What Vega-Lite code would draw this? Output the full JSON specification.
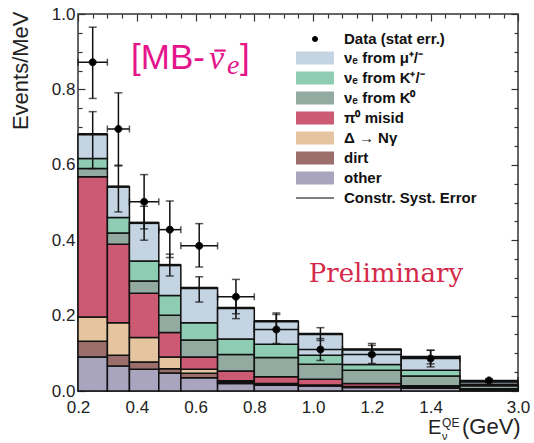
{
  "$schema": "https://vega.github.io/schema/vega-lite/v6.json",
  "width": 440,
  "height": 377,
  "autosize": {"type": "none"},
  "padding": {"left": 78, "top": 14, "right": 16, "bottom": 52},
  "background": "white",
  "config": {
    "view": {"stroke": "#333", "strokeWidth": 1.5},
    "axis": {"grid": false, "domain": false, "tickColor": "#333", "tickWidth": 1.2, "labelFont": "Liberation Sans", "labelFontSize": 17, "labelColor": "#222", "titleFont": "Liberation Sans", "titleFontSize": 22, "titleFontWeight": "normal", "titleColor": "#222", "labelFlush": false, "labelOverlap": false},
    "legend": {"labelFont": "Liberation Sans", "labelFontWeight": "bold", "labelFontSize": 15, "labelColor": "#111", "symbolSize": 361, "symbolStrokeColor": "#111", "symbolStrokeWidth": 1.5, "rowPadding": 0, "labelOffset": 18.5, "padding": 0, "symbolOpacity": 1, "labelLimit": 300}
  },
  "datasets": {
    "stack": [
      {"x0": 0.2, "x1": 0.3, "comp": "other", "ord": 1, "v": 0.090},
      {"x0": 0.2, "x1": 0.3, "comp": "dirt", "ord": 2, "v": 0.042},
      {"x0": 0.2, "x1": 0.3, "comp": "Δ → Nγ", "ord": 3, "v": 0.064},
      {"x0": 0.2, "x1": 0.3, "comp": "π⁰ misid", "ord": 4, "v": 0.372},
      {"x0": 0.2, "x1": 0.3, "comp": "νₑ from K⁰", "ord": 5, "v": 0.022},
      {"x0": 0.2, "x1": 0.3, "comp": "νₑ from K⁺/⁻", "ord": 6, "v": 0.027},
      {"x0": 0.2, "x1": 0.3, "comp": "νₑ from μ⁺/⁻", "ord": 7, "v": 0.064},
      {"x0": 0.3, "x1": 0.375, "comp": "other", "ord": 1, "v": 0.066},
      {"x0": 0.3, "x1": 0.375, "comp": "dirt", "ord": 2, "v": 0.029},
      {"x0": 0.3, "x1": 0.375, "comp": "Δ → Nγ", "ord": 3, "v": 0.086},
      {"x0": 0.3, "x1": 0.375, "comp": "π⁰ misid", "ord": 4, "v": 0.208},
      {"x0": 0.3, "x1": 0.375, "comp": "νₑ from K⁰", "ord": 5, "v": 0.030},
      {"x0": 0.3, "x1": 0.375, "comp": "νₑ from K⁺/⁻", "ord": 6, "v": 0.041},
      {"x0": 0.3, "x1": 0.375, "comp": "νₑ from μ⁺/⁻", "ord": 7, "v": 0.082},
      {"x0": 0.375, "x1": 0.475, "comp": "other", "ord": 1, "v": 0.058},
      {"x0": 0.375, "x1": 0.475, "comp": "dirt", "ord": 2, "v": 0.019},
      {"x0": 0.375, "x1": 0.475, "comp": "Δ → Nγ", "ord": 3, "v": 0.065},
      {"x0": 0.375, "x1": 0.475, "comp": "π⁰ misid", "ord": 4, "v": 0.117},
      {"x0": 0.375, "x1": 0.475, "comp": "νₑ from K⁰", "ord": 5, "v": 0.033},
      {"x0": 0.375, "x1": 0.475, "comp": "νₑ from K⁺/⁻", "ord": 6, "v": 0.053},
      {"x0": 0.375, "x1": 0.475, "comp": "νₑ from μ⁺/⁻", "ord": 7, "v": 0.101},
      {"x0": 0.475, "x1": 0.55, "comp": "other", "ord": 1, "v": 0.048},
      {"x0": 0.475, "x1": 0.55, "comp": "dirt", "ord": 2, "v": 0.011},
      {"x0": 0.475, "x1": 0.55, "comp": "Δ → Nγ", "ord": 3, "v": 0.031},
      {"x0": 0.475, "x1": 0.55, "comp": "π⁰ misid", "ord": 4, "v": 0.065},
      {"x0": 0.475, "x1": 0.55, "comp": "νₑ from K⁰", "ord": 5, "v": 0.046},
      {"x0": 0.475, "x1": 0.55, "comp": "νₑ from K⁺/⁻", "ord": 6, "v": 0.052},
      {"x0": 0.475, "x1": 0.55, "comp": "νₑ from μ⁺/⁻", "ord": 7, "v": 0.081},
      {"x0": 0.55, "x1": 0.675, "comp": "other", "ord": 1, "v": 0.035},
      {"x0": 0.55, "x1": 0.675, "comp": "dirt", "ord": 2, "v": 0.012},
      {"x0": 0.55, "x1": 0.675, "comp": "Δ → Nγ", "ord": 3, "v": 0.011},
      {"x0": 0.55, "x1": 0.675, "comp": "π⁰ misid", "ord": 4, "v": 0.032},
      {"x0": 0.55, "x1": 0.675, "comp": "νₑ from K⁰", "ord": 5, "v": 0.045},
      {"x0": 0.55, "x1": 0.675, "comp": "νₑ from K⁺/⁻", "ord": 6, "v": 0.046},
      {"x0": 0.55, "x1": 0.675, "comp": "νₑ from μ⁺/⁻", "ord": 7, "v": 0.092},
      {"x0": 0.675, "x1": 0.8, "comp": "other", "ord": 1, "v": 0.020},
      {"x0": 0.675, "x1": 0.8, "comp": "dirt", "ord": 2, "v": 0.004},
      {"x0": 0.675, "x1": 0.8, "comp": "Δ → Nγ", "ord": 3, "v": 0.003},
      {"x0": 0.675, "x1": 0.8, "comp": "π⁰ misid", "ord": 4, "v": 0.026},
      {"x0": 0.675, "x1": 0.8, "comp": "νₑ from K⁰", "ord": 5, "v": 0.044},
      {"x0": 0.675, "x1": 0.8, "comp": "νₑ from K⁺/⁻", "ord": 6, "v": 0.041},
      {"x0": 0.675, "x1": 0.8, "comp": "νₑ from μ⁺/⁻", "ord": 7, "v": 0.082},
      {"x0": 0.8, "x1": 0.95, "comp": "other", "ord": 1, "v": 0.015},
      {"x0": 0.8, "x1": 0.95, "comp": "dirt", "ord": 2, "v": 0.003},
      {"x0": 0.8, "x1": 0.95, "comp": "Δ → Nγ", "ord": 3, "v": 0.002},
      {"x0": 0.8, "x1": 0.95, "comp": "π⁰ misid", "ord": 4, "v": 0.018},
      {"x0": 0.8, "x1": 0.95, "comp": "νₑ from K⁰", "ord": 5, "v": 0.051},
      {"x0": 0.8, "x1": 0.95, "comp": "νₑ from K⁺/⁻", "ord": 6, "v": 0.035},
      {"x0": 0.8, "x1": 0.95, "comp": "νₑ from μ⁺/⁻", "ord": 7, "v": 0.061},
      {"x0": 0.95, "x1": 1.1, "comp": "other", "ord": 1, "v": 0.013},
      {"x0": 0.95, "x1": 1.1, "comp": "dirt", "ord": 2, "v": 0.002},
      {"x0": 0.95, "x1": 1.1, "comp": "Δ → Nγ", "ord": 3, "v": 0.001},
      {"x0": 0.95, "x1": 1.1, "comp": "π⁰ misid", "ord": 4, "v": 0.015},
      {"x0": 0.95, "x1": 1.1, "comp": "νₑ from K⁰", "ord": 5, "v": 0.040},
      {"x0": 0.95, "x1": 1.1, "comp": "νₑ from K⁺/⁻", "ord": 6, "v": 0.024},
      {"x0": 0.95, "x1": 1.1, "comp": "νₑ from μ⁺/⁻", "ord": 7, "v": 0.056},
      {"x0": 1.1, "x1": 1.3, "comp": "other", "ord": 1, "v": 0.009},
      {"x0": 1.1, "x1": 1.3, "comp": "dirt", "ord": 2, "v": 0.002},
      {"x0": 1.1, "x1": 1.3, "comp": "Δ → Nγ", "ord": 3, "v": 0.001},
      {"x0": 1.1, "x1": 1.3, "comp": "π⁰ misid", "ord": 4, "v": 0.008},
      {"x0": 1.1, "x1": 1.3, "comp": "νₑ from K⁰", "ord": 5, "v": 0.035},
      {"x0": 1.1, "x1": 1.3, "comp": "νₑ from K⁺/⁻", "ord": 6, "v": 0.015},
      {"x0": 1.1, "x1": 1.3, "comp": "νₑ from μ⁺/⁻", "ord": 7, "v": 0.040},
      {"x0": 1.3, "x1": 1.5, "comp": "other", "ord": 1, "v": 0.007},
      {"x0": 1.3, "x1": 1.5, "comp": "dirt", "ord": 2, "v": 0.002},
      {"x0": 1.3, "x1": 1.5, "comp": "Δ → Nγ", "ord": 3, "v": 0.001},
      {"x0": 1.3, "x1": 1.5, "comp": "π⁰ misid", "ord": 4, "v": 0.004},
      {"x0": 1.3, "x1": 1.5, "comp": "νₑ from K⁰", "ord": 5, "v": 0.026},
      {"x0": 1.3, "x1": 1.5, "comp": "νₑ from K⁺/⁻", "ord": 6, "v": 0.015},
      {"x0": 1.3, "x1": 1.5, "comp": "νₑ from μ⁺/⁻", "ord": 7, "v": 0.035},
      {"x0": 1.5, "x1": 3.0, "comp": "other", "ord": 1, "v": 0.003},
      {"x0": 1.5, "x1": 3.0, "comp": "dirt", "ord": 2, "v": 0.001},
      {"x0": 1.5, "x1": 3.0, "comp": "Δ → Nγ", "ord": 3, "v": 0.001},
      {"x0": 1.5, "x1": 3.0, "comp": "π⁰ misid", "ord": 4, "v": 0.001},
      {"x0": 1.5, "x1": 3.0, "comp": "νₑ from K⁰", "ord": 5, "v": 0.008},
      {"x0": 1.5, "x1": 3.0, "comp": "νₑ from K⁺/⁻", "ord": 6, "v": 0.004},
      {"x0": 1.5, "x1": 3.0, "comp": "νₑ from μ⁺/⁻", "ord": 7, "v": 0.007}
    ],
    "bins": [
      {"x0": 0.2, "x1": 0.3, "xc": 0.25, "total": 0.681, "slo": 0.59, "shi": 0.741, "d": 0.872, "dlo": 0.776, "dhi": 0.965, "series": "Data (stat err.)"},
      {"x0": 0.3, "x1": 0.375, "xc": 0.3375, "total": 0.542, "slo": 0.475, "shi": 0.599, "d": 0.695, "dlo": 0.597, "dhi": 0.791, "series": "Data (stat err.)"},
      {"x0": 0.375, "x1": 0.475, "xc": 0.425, "total": 0.446, "slo": 0.40, "shi": 0.49, "d": 0.502, "dlo": 0.43, "dhi": 0.574, "series": "Data (stat err.)"},
      {"x0": 0.475, "x1": 0.55, "xc": 0.5125, "total": 0.334, "slo": 0.305, "shi": 0.363, "d": 0.428, "dlo": 0.354, "dhi": 0.504, "series": "Data (stat err.)"},
      {"x0": 0.55, "x1": 0.675, "xc": 0.6125, "total": 0.273, "slo": 0.236, "shi": 0.303, "d": 0.385, "dlo": 0.329, "dhi": 0.444, "series": "Data (stat err.)"},
      {"x0": 0.675, "x1": 0.8, "xc": 0.7375, "total": 0.220, "slo": 0.192, "shi": 0.248, "d": 0.250, "dlo": 0.205, "dhi": 0.296, "series": "Data (stat err.)"},
      {"x0": 0.8, "x1": 0.95, "xc": 0.875, "total": 0.185, "slo": 0.163, "shi": 0.207, "d": 0.163, "dlo": 0.126, "dhi": 0.203, "series": "Data (stat err.)"},
      {"x0": 0.95, "x1": 1.1, "xc": 1.025, "total": 0.151, "slo": 0.134, "shi": 0.168, "d": 0.110, "dlo": 0.081, "dhi": 0.139, "series": "Data (stat err.)"},
      {"x0": 1.1, "x1": 1.3, "xc": 1.2, "total": 0.110, "slo": 0.094, "shi": 0.126, "d": 0.097, "dlo": 0.073, "dhi": 0.121, "series": "Data (stat err.)"},
      {"x0": 1.3, "x1": 1.5, "xc": 1.4, "total": 0.090, "slo": 0.072, "shi": 0.108, "d": 0.086, "dlo": 0.064, "dhi": 0.108, "series": "Data (stat err.)"},
      {"x0": 1.5, "x1": 3.0, "xc": 2.25, "total": 0.025, "slo": 0.022, "shi": 0.028, "d": 0.028, "dlo": 0.024, "dhi": 0.032, "series": "Data (stat err.)"}
    ]
  },
  "layer": [
    {
      "data": {"name": "stack"},
      "transform": [{"stack": "v", "groupby": ["x0"], "sort": [{"field": "ord", "order": "ascending"}], "as": ["ylo", "yhi"]}],
      "mark": {"type": "bar", "stroke": "#111", "strokeWidth": 1.5},
      "encoding": {
        "x": {"field": "x0", "type": "quantitative", "scale": {"domain": [0.2, 1.5, 3.0], "range": [0, 382, 440], "nice": false, "zero": false},
              "axis": {"orient": "bottom", "values": [0.2, 0.4, 0.6, 0.8, 1.0, 1.2, 1.4, 3.0], "format": ".1f", "tickSize": -7, "labelPadding": 15, "title": null}},
        "x2": {"field": "x1"},
        "y": {"field": "ylo", "type": "quantitative", "scale": {"domain": [0, 1], "nice": false},
              "axis": {"orient": "left", "values": [0, 0.2, 0.4, 0.6, 0.8, 1.0], "format": ".1f", "tickSize": -7, "labelPadding": 10, "title": "Events/MeV", "titleX": -58, "titleY": -3, "titleAlign": "right", "titleAngle": -90, "titleBaseline": "middle"}},
        "y2": {"field": "yhi"},
        "color": {"field": "comp", "type": "nominal",
                  "scale": {"domain": ["Data (stat err.)", "νₑ from μ⁺/⁻", "νₑ from K⁺/⁻", "νₑ from K⁰", "π⁰ misid", "Δ → Nγ", "dirt", "other", "Constr. Syst. Error"],
                            "range": ["#000000", "#c4d4e2", "#8eccb4", "#92aaa0", "#cd5a73", "#e5c4a0", "#9b6e6c", "#aaa5be", "#000000"]},
                  "legend": {"orient": "none", "legendX": 226.5, "legendY": 14.5, "title": null}}
      }
    },
    {
      "data": {"name": "bins"},
      "mark": {"type": "rule", "color": "#111", "strokeWidth": 2.5},
      "encoding": {
        "x": {"field": "x0", "type": "quantitative", "axis": {"orient": "top", "values": [0.2, 0.4, 0.6, 0.8, 1.0, 1.2, 1.4, 3.0], "labels": false, "tickSize": -7, "title": null}},
        "x2": {"field": "x1"},
        "y": {"field": "total", "type": "quantitative", "axis": {"orient": "right", "values": [0, 0.2, 0.4, 0.6, 0.8, 1.0], "labels": false, "tickSize": -7, "title": null}}
      }
    },
    {
      "data": {"name": "bins"},
      "mark": {"type": "rule", "color": "#111", "strokeWidth": 1.5},
      "encoding": {
        "x": {"field": "xc", "type": "quantitative", "axis": {"orient": "bottom", "values": [0.25, 0.3, 0.35, 0.45, 0.5, 0.55, 0.65, 0.7, 0.75, 0.85, 0.9, 0.95, 1.05, 1.1, 1.15, 1.25, 1.3, 1.35, 1.45, 1.5, 1.875, 2.25, 2.625], "labels": false, "tickSize": -4, "title": null}},
        "y": {"field": "slo", "type": "quantitative", "axis": {"orient": "left", "values": [0.05, 0.1, 0.15, 0.25, 0.3, 0.35, 0.45, 0.5, 0.55, 0.65, 0.7, 0.75, 0.85, 0.9, 0.95], "labels": false, "tickSize": -4, "title": null}},
        "y2": {"field": "shi"}
      }
    },
    {
      "data": {"name": "bins"},
      "transform": [{"fold": ["slo", "shi"], "as": ["k", "val"]}],
      "mark": {"type": "tick", "orient": "horizontal", "size": 8, "thickness": 1.5, "color": "#111"},
      "encoding": {
        "x": {"field": "xc", "type": "quantitative", "axis": {"orient": "top", "values": [0.25, 0.3, 0.35, 0.45, 0.5, 0.55, 0.65, 0.7, 0.75, 0.85, 0.9, 0.95, 1.05, 1.1, 1.15, 1.25, 1.3, 1.35, 1.45, 1.5, 1.875, 2.25, 2.625], "labels": false, "tickSize": -4, "title": null}},
        "y": {"field": "val", "type": "quantitative", "axis": {"orient": "right", "values": [0.05, 0.1, 0.15, 0.25, 0.3, 0.35, 0.45, 0.5, 0.55, 0.65, 0.7, 0.75, 0.85, 0.9, 0.95], "labels": false, "tickSize": -4, "title": null}}
      }
    },
    {
      "data": {"name": "bins"},
      "mark": {"type": "rule", "color": "#111", "strokeWidth": 1.5},
      "encoding": {
        "x": {"field": "xc", "type": "quantitative", "axis": null},
        "y": {"field": "dlo", "type": "quantitative", "axis": null},
        "y2": {"field": "dhi"}
      }
    },
    {
      "data": {"name": "bins"},
      "transform": [{"fold": ["dlo", "dhi"], "as": ["k", "val"]}],
      "mark": {"type": "tick", "orient": "horizontal", "size": 8, "thickness": 1.5, "color": "#111"},
      "encoding": {
        "x": {"field": "xc", "type": "quantitative", "axis": null},
        "y": {"field": "val", "type": "quantitative", "axis": null}
      }
    },
    {
      "data": {"name": "bins"},
      "mark": {"type": "rule", "color": "#111", "strokeWidth": 1.5},
      "encoding": {
        "x": {"field": "x0", "type": "quantitative", "axis": null},
        "x2": {"field": "x1"},
        "y": {"field": "d", "type": "quantitative", "axis": null}
      }
    },
    {
      "data": {"name": "bins"},
      "transform": [{"fold": ["x0", "x1"], "as": ["k", "val"]}],
      "mark": {"type": "tick", "orient": "vertical", "size": 7, "thickness": 1.5, "color": "#111"},
      "encoding": {
        "x": {"field": "val", "type": "quantitative", "axis": null},
        "y": {"field": "d", "type": "quantitative", "axis": null}
      }
    },
    {
      "data": {"name": "bins"},
      "mark": {"type": "point", "filled": true, "stroke": "#111", "strokeWidth": 1, "size": 500, "opacity": 1},
      "encoding": {
        "x": {"field": "xc", "type": "quantitative", "axis": null},
        "y": {"field": "d", "type": "quantitative", "axis": null},
        "color": {"field": "series", "type": "nominal",
                  "scale": {"domain": ["Data (stat err.)", "νₑ from μ⁺/⁻", "νₑ from K⁺/⁻", "νₑ from K⁰", "π⁰ misid", "Δ → Nγ", "dirt", "other", "Constr. Syst. Error"],
                            "range": ["#000000", "#c4d4e2", "#8eccb4", "#92aaa0", "#cd5a73", "#e5c4a0", "#9b6e6c", "#aaa5be", "#000000"]},
                  "legend": {"orient": "none", "legendX": 226.5, "legendY": 14.5, "title": null}},
        "shape": {"field": "series", "type": "nominal",
                  "scale": {"domain": ["Data (stat err.)", "νₑ from μ⁺/⁻", "νₑ from K⁺/⁻", "νₑ from K⁰", "π⁰ misid", "Δ → Nγ", "dirt", "other", "Constr. Syst. Error"],
                            "range": ["M-0.316,0A0.316,0.316,0,1,1,0.316,0A0.316,0.316,0,1,1,-0.316,0Z", "M-2,-0.684L2,-0.684L2,0.684L-2,0.684Z", "M-2,-0.684L2,-0.684L2,0.684L-2,0.684Z", "M-2,-0.684L2,-0.684L2,0.684L-2,0.684Z", "M-2,-0.684L2,-0.684L2,0.684L-2,0.684Z", "M-2,-0.684L2,-0.684L2,0.684L-2,0.684Z", "M-2,-0.684L2,-0.684L2,0.684L-2,0.684Z", "M-2,-0.684L2,-0.684L2,0.684L-2,0.684Z", "M-2,-0.06L2,-0.06L2,0.06L-2,0.06Z"]},
                  "legend": {"orient": "none", "legendX": 226.5, "legendY": 14.5, "title": null}}
      }
    },
    {
      "data": {"values": [{"t": "[MB-", "x": 0.3804, "y": 0.8554}]},
      "mark": {"type": "text", "font": "Liberation Sans", "fontSize": 35, "color": "#e5168c", "align": "left", "baseline": "alphabetic"},
      "encoding": {"x": {"field": "x", "type": "quantitative", "axis": null}, "y": {"field": "y", "type": "quantitative", "axis": null}, "text": {"field": "t"}}
    },
    {
      "data": {"values": [{"t": "ν", "x": 0.646, "y": 0.8554}]},
      "mark": {"type": "text", "font": "Liberation Serif", "fontStyle": "italic", "fontSize": 34, "color": "#e5168c", "align": "left", "baseline": "alphabetic"},
      "encoding": {"x": {"field": "x", "type": "quantitative", "axis": null}, "y": {"field": "y", "type": "quantitative", "axis": null}, "text": {"field": "t"}}
    },
    {
      "data": {"values": [{"x": 0.664, "x2": 0.703, "y": 0.903}]},
      "mark": {"type": "rule", "color": "#e5168c", "strokeWidth": 2.2},
      "encoding": {"x": {"field": "x", "type": "quantitative", "axis": null}, "x2": {"field": "x2"}, "y": {"field": "y", "type": "quantitative", "axis": null}}
    },
    {
      "data": {"values": [{"t": "e", "x": 0.7071, "y": 0.842}]},
      "mark": {"type": "text", "font": "Liberation Serif", "fontStyle": "italic", "fontSize": 28, "color": "#e5168c", "align": "left", "baseline": "alphabetic"},
      "encoding": {"x": {"field": "x", "type": "quantitative", "axis": null}, "y": {"field": "y", "type": "quantitative", "axis": null}, "text": {"field": "t"}}
    },
    {
      "data": {"values": [{"t": "]", "x": 0.7514, "y": 0.8554}]},
      "mark": {"type": "text", "font": "Liberation Sans", "fontSize": 35, "color": "#e5168c", "align": "left", "baseline": "alphabetic"},
      "encoding": {"x": {"field": "x", "type": "quantitative", "axis": null}, "y": {"field": "y", "type": "quantitative", "axis": null}, "text": {"field": "t"}}
    },
    {
      "data": {"values": [{"t": "Preliminary", "x": 1.248, "y": 0.289}]},
      "mark": {"type": "text", "font": "DejaVu Serif", "fontSize": 26, "color": "#d42a4a", "align": "center", "baseline": "alphabetic"},
      "encoding": {"x": {"field": "x", "type": "quantitative", "axis": null}, "y": {"field": "y", "type": "quantitative", "axis": null}, "text": {"field": "t"}}
    },
    {
      "data": {"values": [{"t": "E", "x": 1.391, "y": -0.114}]},
      "mark": {"type": "text", "font": "Liberation Sans", "fontSize": 20, "color": "#222", "align": "left", "baseline": "alphabetic"},
      "encoding": {"x": {"field": "x", "type": "quantitative", "axis": null}, "y": {"field": "y", "type": "quantitative", "axis": null}, "text": {"field": "t"}}
    },
    {
      "data": {"values": [{"t": "QE", "x": 1.439, "y": -0.0955}]},
      "mark": {"type": "text", "font": "Liberation Sans", "fontSize": 12, "color": "#222", "align": "left", "baseline": "alphabetic"},
      "encoding": {"x": {"field": "x", "type": "quantitative", "axis": null}, "y": {"field": "y", "type": "quantitative", "axis": null}, "text": {"field": "t"}}
    },
    {
      "data": {"values": [{"t": "ν", "x": 1.439, "y": -0.131}]},
      "mark": {"type": "text", "font": "Liberation Sans", "fontSize": 11, "color": "#222", "align": "left", "baseline": "alphabetic"},
      "encoding": {"x": {"field": "x", "type": "quantitative", "axis": null}, "y": {"field": "y", "type": "quantitative", "axis": null}, "text": {"field": "t"}}
    },
    {
      "data": {"values": [{"t": "(GeV)", "x": 1.552, "y": -0.114}]},
      "mark": {"type": "text", "font": "Liberation Sans", "fontSize": 22, "color": "#222", "align": "left", "baseline": "alphabetic"},
      "encoding": {"x": {"field": "x", "type": "quantitative", "axis": null}, "y": {"field": "y", "type": "quantitative", "axis": null}, "text": {"field": "t"}}
    }
  ],
  "resolve": {"axis": {"x": "independent", "y": "independent"}}
}
